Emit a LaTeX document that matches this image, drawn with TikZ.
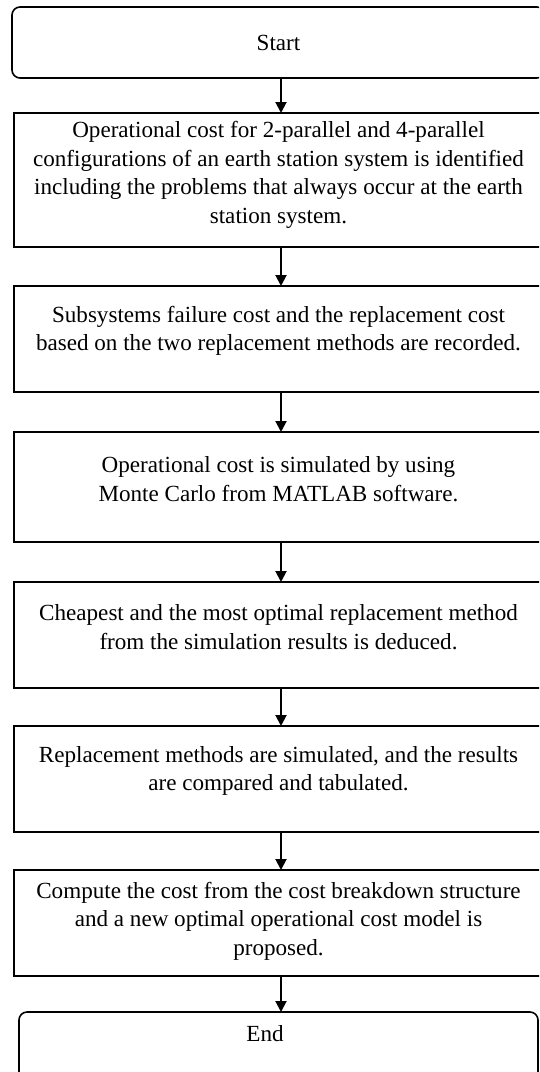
\documentclass[tikz,border=0pt]{standalone}
\usepackage{fontspec}
\setmainfont{Liberation Serif}
\usetikzlibrary{arrows.meta}
\tikzset{
  stepbox/.style={draw=black, line width=1.6pt, rectangle, inner sep=0pt, outer sep=0pt},
  termbox/.style={stepbox, rounded corners=8pt},
  txt/.style={align=center, inner sep=0pt, font={\fontsize{23.1}{28.5}\selectfont}},
  arr/.style={line width=2pt, -{Triangle[length=11pt,width=11pt]}}
}
\begin{document}
\begin{tikzpicture}[x=1pt,y=-1pt]
\useasboundingbox (0,0) rectangle (539,1072);
\clip (0,0) rectangle (539,1072);
\fill[white] (0,0) rectangle (539,1072);
\coordinate (ax) at (281,0);
% boxes
\node[termbox, minimum width=533pt, minimum height=71pt] (start) at (278.5,42.5) {};
\node[stepbox, minimum width=531pt, minimum height=134pt] (b1) at (279.5,180) {};
\node[stepbox, minimum width=531pt, minimum height=106pt] (b2) at (279.5,339) {};
\node[stepbox, minimum width=531pt, minimum height=110pt] (b3) at (279.5,487) {};
\node[stepbox, minimum width=531pt, minimum height=106pt] (b4) at (279.5,635) {};
\node[stepbox, minimum width=531pt, minimum height=106pt] (b5) at (279.5,779) {};
\node[stepbox, minimum width=531pt, minimum height=106pt] (b6) at (279.5,923) {};
\node[termbox, minimum width=519pt, minimum height=70pt] (end) at (278.5,1047) {};
% texts
\node[txt] (tstart) at (278.5,43) {Start};
\node[txt] (t1) at (278.5,175) {Operational cost for 2-parallel and 4-parallel\\configurations of an earth station system is identified\\including the problems that always occur at the earth\\station system.};
\node[txt] (t2) at (278.5,331) {Subsystems failure cost and the replacement cost\\based on the two replacement methods are recorded.};
\node[txt] (t3) at (278.5,479) {Operational cost is simulated by using\\Monte Carlo from MATLAB software.};
\node[txt] (t4) at (278.5,627) {Cheapest and the most optimal replacement method\\from the simulation results is deduced.};
\node[txt] (t5) at (278.5,771) {Replacement methods are simulated, and the results\\are compared and tabulated.};
\node[txt] (t6) at (278.5,921) {Compute the cost from the cost breakdown structure\\and a new optimal operational cost model is\\proposed.};
\node[txt] (tend) at (265,1034) {End};
% arrows
\draw[arr] (start.south -| ax) -- (b1.north -| ax);
\draw[arr] (b1.south -| ax) -- (b2.north -| ax);
\draw[arr] (b2.south -| ax) -- (b3.north -| ax);
\draw[arr] (b3.south -| ax) -- (b4.north -| ax);
\draw[arr] (b4.south -| ax) -- (b5.north -| ax);
\draw[arr] (b5.south -| ax) -- (b6.north -| ax);
\draw[arr] (b6.south -| ax) -- (end.north -| ax);
\end{tikzpicture}
\end{document}
